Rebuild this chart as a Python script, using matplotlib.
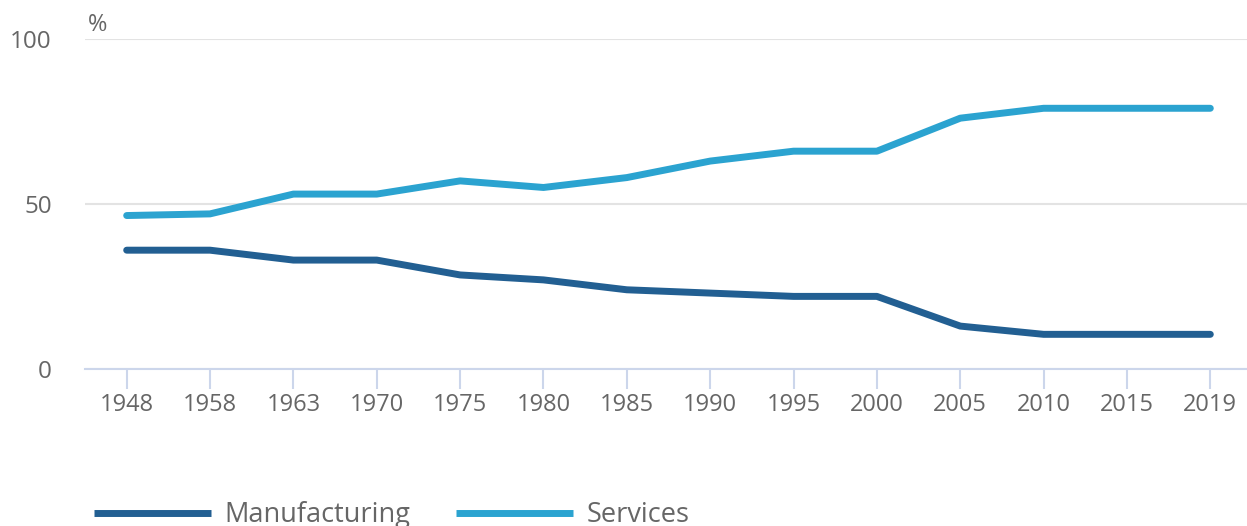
import matplotlib
matplotlib.use("Agg")
import matplotlib.pyplot as plt

plt.rcParams['font.family'] = ['Open Sans', 'DejaVu Sans']

years = ['1948', '1958', '1963', '1970', '1975', '1980', '1985',
         '1990', '1995', '2000', '2005', '2010', '2015', '2019']
manufacturing = [36, 36, 33, 33, 28.5, 27, 24, 23, 22, 22, 13, 10.5, 10.5, 10.5]
services = [46.5, 47, 53, 53, 57, 55, 58, 63, 66, 66, 76, 79, 79, 79]

fig = plt.figure(figsize=(12.47, 5.26), dpi=100)
ax = fig.add_axes([85 / 1247, 0.2985, 1162 / 1247, 0.6274])

x = range(len(years))
ax.plot(x, manufacturing, color='#225f92', lw=5, solid_capstyle='round',
        label='Manufacturing', zorder=3)
ax.plot(x, services, color='#2ba3d0', lw=5, solid_capstyle='round',
        label='Services', zorder=3)

ax.set_xlim(-0.5, 13.44)
ax.set_ylim(0, 100)
ax.set_yticks([0, 50, 100])
ax.set_xticks(list(x))
ax.set_xticklabels(years)

for s in ['top', 'right', 'left']:
    ax.spines[s].set_visible(False)
ax.spines['bottom'].set_color('#ccd6eb')
ax.spines['bottom'].set_linewidth(1.5)

ax.grid(axis='y', color='#e3e3e3', lw=1.5)
ax.set_axisbelow(True)
ax.tick_params(axis='y', length=0, pad=24, labelsize=17.5, labelcolor='#666666')
ax.tick_params(axis='x', length=14.5, width=1.5, color='#ccd6eb', pad=3,
               labelsize=17, labelcolor='#666666')

# unit label above the y axis
fig.text(88 / 1247, 1 - 25 / 526, '%', fontsize=17, color='#666666',
         ha='left', va='center')

leg = fig.legend(loc='center left', bbox_to_anchor=(70 / 1247, 11 / 526),
                 ncol=2, frameon=False, fontsize=19.5, handlelength=4.3,
                 handletextpad=0.5, columnspacing=1.7, labelcolor='#666666')
for line in leg.get_lines():
    line.set_linewidth(5)
    line.set_solid_capstyle('butt')

fig.savefig('out.png', dpi=100)
